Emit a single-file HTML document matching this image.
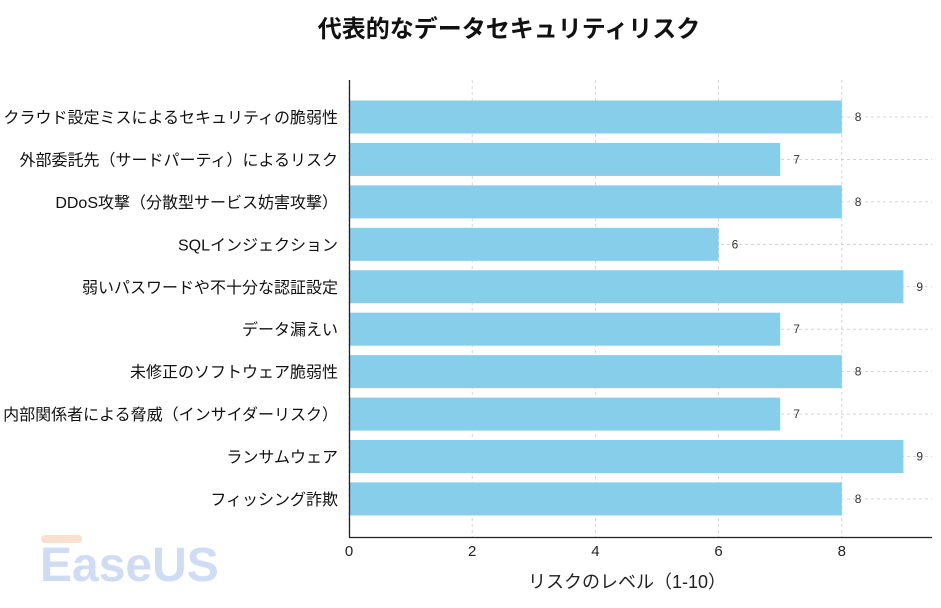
<!DOCTYPE html>
<html><head><meta charset="utf-8"><style>
body{margin:0;background:#fff;font-family:"Liberation Sans","Noto Sans CJK JP",sans-serif}
</style></head><body>
<svg width="941" height="603" viewBox="0 0 941 603" xmlns="http://www.w3.org/2000/svg" style="font-family:'Liberation Sans','Noto Sans CJK JP',sans-serif">
<text x="509" y="37" text-anchor="middle" font-size="24" font-weight="bold" fill="#111">代表的なデータセキュリティリスク</text>
<g id="grid"></g><g id="bars"></g><g id="labels"></g><g id="ticks"></g>
<line x1="349.5" y1="80" x2="349.5" y2="537.5" stroke="#222" stroke-width="1.3"/>
<line x1="349" y1="537.5" x2="932" y2="537.5" stroke="#222" stroke-width="1.3"/>
<text x="627" y="588" text-anchor="middle" font-size="18" fill="#222">リスクのレベル（1-10）</text>
<g opacity="0.55">
<rect x="41" y="535" width="41" height="8" rx="4" fill="#f6c9a8"/>
<text x="40" y="581" font-size="48" font-weight="bold" fill="#a9c1ea" font-family="Liberation Sans, sans-serif">EaseUS</text>
</g>
</svg>
<script>
const categories=["クラウド設定ミスによるセキュリティの脆弱性","外部委託先（サードパーティ）によるリスク","DDoS攻撃（分散型サービス妨害攻撃）","SQLインジェクション","弱いパスワードや不十分な認証設定","データ漏えい","未修正のソフトウェア脆弱性","内部関係者による脅威（インサイダーリスク）","ランサムウェア","フィッシング詐欺"];
const values=[8,7,8,6,9,7,8,7,9,8];
const xTicks=[0,2,4,6,8];
const NS="http://www.w3.org/2000/svg";
const x=v=>349+v*61.6;
const y=i=>117+i*42.44;
function mk(t,a,p){const e=document.createElementNS(NS,t);for(const k in a)e.setAttribute(k,a[k]);p.appendChild(e);return e;}
const grid=document.getElementById('grid'),bars=document.getElementById('bars'),labels=document.getElementById('labels'),ticks=document.getElementById('ticks');
xTicks.forEach(t=>{
 const g=mk('line',{x1:x(t),x2:x(t),y1:80,y2:537,stroke:'#ccc','stroke-dasharray':'3,3','stroke-width':0.8},grid);
 
 
 const tk=mk('text',{x:x(t),y:556,'text-anchor':'middle','font-size':15,fill:'#222'},ticks);
 tk.textContent=t;
 
 
});
categories.forEach((c,i)=>{
 const g=mk('line',{x1:349,x2:932,y1:y(i),y2:y(i),stroke:'#ccc','stroke-dasharray':'3,3','stroke-width':0.8},grid);
 
 
 const b=mk('rect',{x:349,y:y(i)-16.5,width:x(values[i])-349,height:33,fill:'#87ceeb'},bars);
 
 
 const v=mk('text',{x:x(values[i])+13,y:y(i)+4,'font-size':12,fill:'#333'},labels);
 v.textContent=values[i];
 
 
 const l=mk('text',{x:338,y:y(i)+6,'text-anchor':'end','font-size':16,fill:'#111'},ticks);
 l.textContent=c;
 
 
});
</script>
</body></html>
